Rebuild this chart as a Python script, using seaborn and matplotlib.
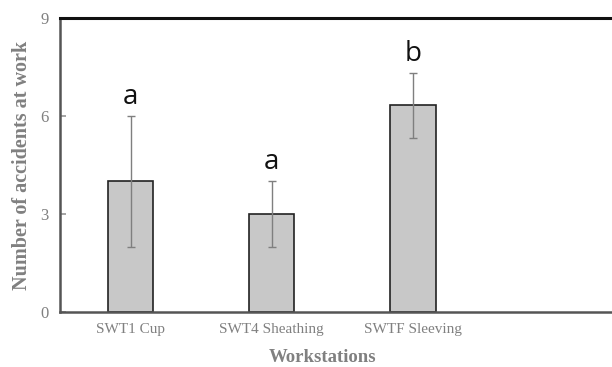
import matplotlib
matplotlib.use("Agg")
import matplotlib.pyplot as plt
import seaborn as sns
import pandas as pd

categories = ["SWT1 Cup", "SWT4 Sheathing", "SWTF Sleeving", " "]
values = [4.0, 3.0, 6.33]
errors = [2.0, 1.0, 1.0]
letters = ["a", "a", "b"]
yticks = [0, 3, 6, 9]

sns.set_theme(style="white")
plt.rcParams['font.family'] = ['Liberation Serif', 'DejaVu Serif']

df = pd.DataFrame({"cat": categories[:len(values)], "val": values})

fig = plt.figure(figsize=(6.12, 3.67), dpi=100)
ax = fig.add_axes([0.098, 0.150, 0.902, 0.801])

sns.barplot(data=df, x="cat", y="val", order=categories, ax=ax, color="#c8c8c8",
            edgecolor="#222222", linewidth=1.2, width=0.32, errorbar=None,
            saturation=1)

n = len(values)
ax.errorbar(range(n), values, yerr=errors, fmt="none",
            ecolor="#7f7f7f", elinewidth=1.0, capsize=3, capthick=1.0)
for i in range(n):
    ax.text(i, values[i] + errors[i] + 0.15, letters[i], ha="center",
            va="bottom", fontsize=20, family=["Open Sans", "DejaVu Sans"],
            color="#111111")

ax.set_ylim(0, 9)
ax.set_xlim(-0.5, 3.41)
ax.set_yticks(yticks)
ax.set_yticklabels([str(t) for t in yticks], color="#808080", fontsize=12)
ax.set_xticks(range(4))
ax.set_xticklabels(categories, color="#808080", fontsize=11)
ax.tick_params(axis="x", length=0, pad=8)
ax.tick_params(axis="y", length=4, color="#999999", direction="in", pad=8, left=True)

ax.set_xlabel("Workstations", fontsize=13.5, fontweight="bold", color="#808080")
ax.xaxis.set_label_coords(0.475, -0.125)
ax.set_ylabel("Number of accidents at work", fontsize=14.5, fontweight="bold", color="#808080", labelpad=6)

ax.spines["right"].set_visible(False)
ax.spines["top"].set_color("#111111")
ax.spines["top"].set_linewidth(2.2)
ax.spines["left"].set_color("#555555")
ax.spines["left"].set_linewidth(1.8)
ax.spines["bottom"].set_color("#555555")
ax.spines["bottom"].set_linewidth(1.8)

fig.savefig("out.png", dpi=100)
